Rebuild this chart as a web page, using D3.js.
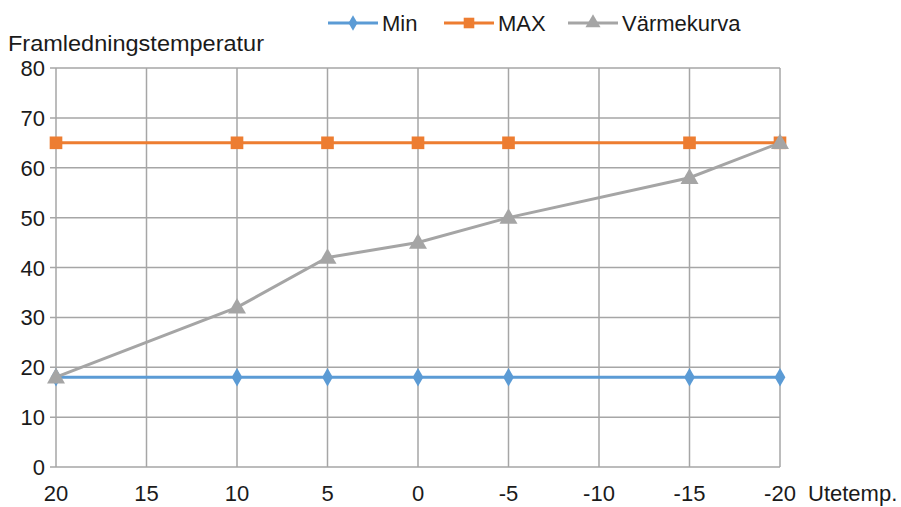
<!DOCTYPE html>
<html><head><meta charset="utf-8">
<script src="https://cdn.jsdelivr.net/npm/d3@7"></script>
<style>body{margin:0;background:#fff;} text{font-family:"Liberation Sans",Arial,sans-serif;}</style>
</head><body>
<svg id="c" width="901" height="507"></svg>
<script>
const categories = [20, 10, 5, 0, -5, -15, -20];
const minValues = [18, 18, 18, 18, 18, 18, 18];
const maxValues = [65, 65, 65, 65, 65, 65, 65];
const curveValues = [18, 32, 42, 45, 50, 58, 65];
const xTicks = [20, 15, 10, 5, 0, -5, -10, -15, -20];
const yTicks = [0, 10, 20, 30, 40, 50, 60, 70, 80];
const seriesNames = ["Min", "MAX", "Värmekurva"];
const seriesColors = ["#5B9BD5", "#ED7D31", "#A5A5A5"];

const svg = d3.select("#c");
const x = d3.scaleLinear().domain([20, -20]).range([56, 780]);
const y = d3.scaleLinear().domain([0, 80]).range([467, 68]);
const grid = "#a6a6a6";
const fs = 22;
const tc = "#1a1a1a";

// grid
svg.append("g").selectAll("line").data(yTicks).join("line")
  .attr("x1", 50).attr("x2", 780).attr("y1", d => y(d)).attr("y2", d => y(d))
  .attr("stroke", grid).attr("stroke-width", 1.5);
svg.append("g").selectAll("line").data(xTicks).join("line")
  .attr("x1", d => x(d)).attr("x2", d => x(d)).attr("y1", 68).attr("y2", 467)
  .attr("stroke", grid).attr("stroke-width", 1.5);

// y labels
svg.append("g").selectAll("text").data(yTicks).join("text")
  .attr("x", 45).attr("y", d => y(d) + 8).attr("text-anchor", "end")
  .attr("font-size", fs).attr("fill", tc).text(d => d);
// x labels
svg.append("g").selectAll("text").data(xTicks).join("text")
  .attr("x", d => x(d)).attr("y", 501).attr("text-anchor", "middle")
  .attr("font-size", fs).attr("fill", tc).text(d => d);

svg.append("text").attr("x", 808).attr("y", 501).attr("font-size", fs)
  .attr("fill", tc).text("Utetemp.");
svg.append("text").attr("x", 8).attr("y", 51).attr("font-size", fs)
  .attr("textLength", 256).attr("lengthAdjust", "spacingAndGlyphs")
  .attr("fill", tc).text("Framledningstemperatur");

const data = [minValues, maxValues, curveValues];
const symbols = [d3.symbolDiamond, d3.symbolSquare, d3.symbolTriangle];
const symSizes = [100, 160, 140];
const line = d3.line().x((d, i) => x(categories[i])).y(d => y(d));

data.forEach((vals, s) => {
  svg.append("path").datum(vals).attr("d", line).attr("fill", "none")
    .attr("stroke", seriesColors[s]).attr("stroke-width", 3);
});
data.forEach((vals, s) => {
  svg.append("g").selectAll("path").data(vals).join("path")
    .attr("transform", (d, i) => `translate(${x(categories[i])},${y(d) + (s === 2 ? 1 : 0)})`)
    .attr("d", d3.symbol().type(symbols[s]).size(symSizes[s]))
    .attr("fill", seriesColors[s]);
});

// legend
const legendX = [328, 444, 568];
seriesNames.forEach((n, s) => {
  const g = svg.append("g").attr("transform", `translate(${legendX[s]},23)`);
  g.append("line").attr("x1", 0).attr("x2", 50).attr("stroke", seriesColors[s]).attr("stroke-width", 3);
  g.append("path").attr("transform", "translate(25,0)")
    .attr("d", d3.symbol().type(symbols[s]).size(symSizes[s] * 0.7)).attr("fill", seriesColors[s]);
  g.append("text").attr("x", 54).attr("y", 8).attr("font-size", fs).attr("fill", tc).text(n);
});
</script>
</body></html>
